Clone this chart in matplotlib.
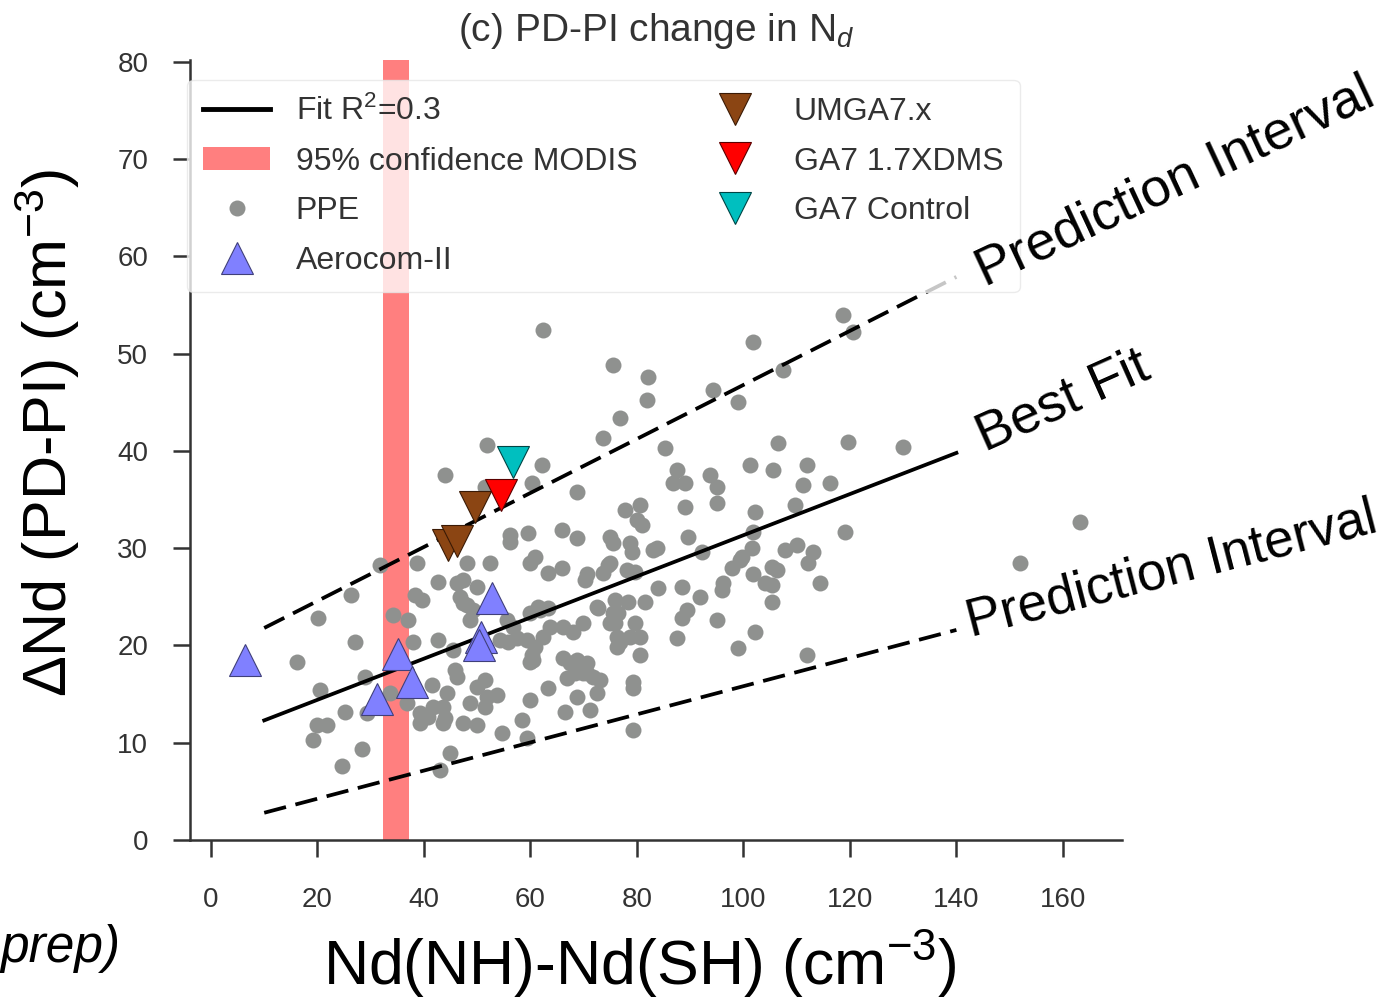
import matplotlib
matplotlib.use("Agg")
import matplotlib.pyplot as plt

plt.rcParams['font.family'] = ['Liberation Sans', 'DejaVu Sans']
plt.rcParams['mathtext.fontset'] = 'custom'
plt.rcParams['mathtext.rm'] = 'Liberation Sans'
plt.rcParams['mathtext.it'] = 'Liberation Sans:italic'
plt.rcParams['mathtext.bf'] = 'Liberation Sans:bold'

# ---------------- data ----------------
ppe_x = [26.3, 20.1, 27.0, 16.2, 28.9, 20.5, 25.2, 19.9, 21.8, 19.2,
         28.4, 24.6, 29.3, 31.7, 34.2, 37.0, 38.3, 39.6, 42.6, 38.7,
         46.2, 47.3, 46.8, 47.3, 37.9, 42.6, 45.4, 45.8, 46.2, 41.5,
         33.6, 36.8, 39.2, 41.7, 43.6, 44.3, 39.2, 43.6, 47.3, 50.0,
         48.6, 50.0, 44.9, 43.0, 40.8, 43.9, 48.1, 49.2, 48.6, 50.0,
         51.5, 51.8, 51.5, 53.7, 54.6, 58.4, 59.3, 59.9, 63.3, 66.5,
         66.9, 68.7, 71.2, 72.5, 69.9, 71.7, 73.1, 68.0, 70.6, 66.1,
         59.9, 60.8, 59.3, 62.3, 63.7, 57.5, 56.7, 55.6, 59.9, 61.4,
         63.3, 66.1, 68.0, 69.9, 72.7, 74.9, 76.2, 76.2, 70.2, 60.3,
         60.5, 54.3, 55.8, 61.8, 75.5, 67.4, 68.7, 70.6, 68.4,
         43.9, 51.8, 51.5, 62.2, 60.3, 68.7, 73.6, 76.8, 62.3, 75.5,
         82.1, 81.9, 94.3, 99.0, 101.8, 107.4, 118.7, 120.6, 85.3, 106.5,
         119.6, 130.0, 87.5, 86.8, 89.0, 93.7, 95.0, 101.2, 105.5, 111.9,
         111.2, 116.2, 95.0, 89.0, 102.2, 109.7, 119.1, 77.7, 80.6, 80.0,
         80.9, 89.6, 74.9, 75.5, 78.7, 79.1, 83.0, 83.8, 92.2, 101.8,
         101.6, 99.7, 97.8, 107.8, 110.0, 113.1, 112.1, 105.4, 106.3, 101.8,
         114.4, 96.2, 104.0, 74.9, 78.1, 79.6, 83.9, 88.5, 56.2, 56.2,
         59.5, 65.9, 68.7, 52.4, 48.1, 60.8, 59.9, 65.9, 63.3, 70.6,
         74.6, 73.6,
         81.5, 91.8, 96.0, 105.4, 105.4, 89.4, 88.5, 95.0, 102.2, 99.0,
         111.9, 87.5, 75.9, 78.3, 76.4, 79.6, 75.9, 76.8, 78.7, 80.6,
         80.6, 79.2, 79.2, 79.2, 163.2, 151.9, 99.3, 72.5]
ppe_y = [25.2, 22.8, 20.4, 18.3, 16.8, 15.4, 13.2, 11.8, 11.8, 10.3,
         9.4, 7.6, 13.1, 28.3, 23.1, 22.6, 25.2, 24.7, 26.5, 28.5,
         26.4, 26.7, 25.0, 24.4, 20.4, 20.6, 19.5, 17.5, 16.8, 15.9,
         15.1, 14.1, 13.1, 13.7, 13.7, 15.1, 12.0, 12.0, 12.0, 11.8,
         14.1, 15.7, 8.9, 7.2, 12.6, 12.5, 24.2, 23.7, 22.6, 26.0,
         13.7, 14.7, 16.5, 14.9, 11.0, 12.3, 10.5, 14.4, 15.6, 13.2,
         16.7, 14.7, 13.4, 15.1, 17.2, 16.8, 16.5, 18.2, 18.2, 18.7,
         18.3, 19.8, 20.6, 20.9, 21.9, 20.8, 21.9, 22.6, 23.3, 24.0,
         23.9, 21.9, 21.4, 22.3, 23.9, 22.3, 20.9, 19.8, 26.7, 19.0,
         18.5, 20.6, 20.4, 23.7, 23.3, 18.2, 18.5, 17.2, 17.2,
         37.5, 40.6, 36.3, 38.6, 36.7, 35.8, 41.3, 43.4, 52.4, 48.8,
         47.6, 45.2, 46.3, 45.0, 51.2, 48.3, 54.0, 52.2, 40.3, 40.8,
         40.9, 40.4, 38.0, 36.7, 36.7, 37.5, 36.3, 38.6, 38.0, 38.6,
         36.5, 36.7, 34.7, 34.2, 33.7, 34.4, 31.7, 33.9, 34.4, 32.9,
         32.4, 31.2, 31.2, 30.5, 30.5, 29.6, 29.8, 30.0, 29.6, 31.7,
         30.0, 29.1, 28.0, 29.8, 30.3, 29.6, 28.5, 28.1, 27.8, 27.3,
         26.4, 26.4, 26.4, 28.5, 27.8, 27.6, 25.9, 26.0, 31.4, 30.6,
         31.6, 31.9, 31.1, 28.5, 28.5, 29.1, 28.5, 28.0, 27.5, 27.3,
         28.3, 27.5,
         24.5, 25.0, 25.7, 26.2, 24.5, 23.7, 22.8, 22.6, 21.4, 19.7,
         19.0, 20.8, 24.7, 24.5, 23.3, 22.3, 22.3, 20.4, 20.9, 20.9,
         19.0, 16.2, 15.6, 11.3, 32.7, 28.5, 28.8, 24.0]

aerocom_x = [6.4, 35.1, 37.7, 31.2, 52.8, 50.7, 50.4]
aerocom_y = [18.5, 19.1, 16.2, 14.5, 24.9, 20.9, 20.0]
umga_x = [44.5, 46.2, 49.6]
umga_y = [30.3, 30.7, 34.2]
dms_x = [54.5]
dms_y = [35.5]
ctrl_x = [56.7]
ctrl_y = [38.9]

fit_x = [10, 140]
fit_y = [12.3, 39.8]
pi_upper = [21.8, 57.9]
pi_lower = [2.8, 21.6]

modis_range = [32.3, 37.2]

xticks = [0, 20, 40, 60, 80, 100, 120, 140, 160]
yticks = [0, 10, 20, 30, 40, 50, 60, 70, 80]

# ---------------- figure ----------------
W, H = 1390, 1001
fig = plt.figure(figsize=(W / 100, H / 100), dpi=100)
ax = fig.add_axes([190 / W, 1 - 840 / H, 932 / W, 780 / H])

ax.axvspan(modis_range[0], modis_range[1], color='red', alpha=0.5, lw=0,
           zorder=1, label='95% confidence MODIS')

dash = (6.0, 2.6)
ax.plot(fit_x, fit_y, color='black', lw=2.7, zorder=3, label='Fit R$^2$=0.3')
ax.plot(fit_x, pi_upper, color='black', lw=2.7, ls='--', dashes=dash, zorder=3)
ax.plot(fit_x, pi_lower, color='black', lw=2.7, ls='--', dashes=dash, zorder=3)

ax.plot(ppe_x, ppe_y, ls='none', marker='o', ms=11.5, mfc='#8f918f',
        mec='none', zorder=2, label='PPE')
ax.plot(aerocom_x, aerocom_y, ls='none', marker='^', ms=23, mfc='#8080ff',
        mec='#40407a', mew=0.8, zorder=4, label='Aerocom-II')
ax.plot(umga_x, umga_y, ls='none', marker='v', ms=23, mfc='#8B4513',
        mec='#3a1a05', mew=0.8, zorder=4, label='UMGA7.x')
ax.plot(dms_x, dms_y, ls='none', marker='v', ms=23, mfc='#ff0000',
        mec='#5a0000', mew=0.8, zorder=4, label='GA7 1.7XDMS')
ax.plot(ctrl_x, ctrl_y, ls='none', marker='v', ms=23, mfc='#00bfbf',
        mec='#004545', mew=0.8, zorder=4, label='GA7 Control')

ax.set_xlim(-3.94, 171.1)
ax.set_ylim(0, 80.2)
ax.set_xticks(xticks)
ax.set_yticks(yticks)

for s in ['top', 'right']:
    ax.spines[s].set_visible(False)
for s in ['left', 'bottom']:
    ax.spines[s].set_color('#333333')
    ax.spines[s].set_linewidth(1.8)
ax.tick_params(axis='both', colors='#333333', labelsize=20, width=1.8,
               length=12, labelcolor='#333333')
ax.tick_params(axis='y', pad=18)
ax.tick_params(axis='x', pad=22)

ax.set_title('(c) PD-PI change in N$_d$', fontsize=28, color='#333333', pad=14)

ax.set_ylabel('\u0394Nd (PD-PI) (cm$^{-3}$)', fontsize=44, color='black')
ax.yaxis.set_label_coords(-0.116, 0.522)
ax.set_xlabel('Nd(NH)-Nd(SH) (cm$^{-3}$)', fontsize=45, color='black')
ax.xaxis.set_label_coords(0.483, -0.114)

handles, labels = ax.get_legend_handles_labels()
order = ['Fit R$^2$=0.3', '95% confidence MODIS', 'PPE', 'Aerocom-II',
         'UMGA7.x', 'GA7 1.7XDMS', 'GA7 Control']
hmap = dict(zip(labels, handles))
leg = ax.legend([hmap[k] for k in order], order, ncol=2, loc='upper left',
                bbox_to_anchor=(-0.003, 0.975), borderaxespad=0.0,
                fontsize=23, labelspacing=0.62, handlelength=2.1,
                handletextpad=0.8, columnspacing=2.0, borderpad=0.5,
                framealpha=0.78, edgecolor='0.9', fancybox=True,
                labelcolor='#333333')
leg.set_zorder(5)
leg.get_lines()[0].set_linewidth(3.5)

ax.text(145.4, 56.9, 'Prediction Interval', fontsize=39, rotation=25,
        rotation_mode='anchor', ha='left', va='baseline', zorder=6)
ax.text(145.4, 39.9, 'Best Fit', fontsize=39, rotation=24,
        rotation_mode='anchor', ha='left', va='baseline', zorder=6)
ax.text(142.7, 20.9, 'Prediction Interval', fontsize=38, rotation=14.5,
        rotation_mode='anchor', ha='left', va='baseline', zorder=6)

fig.text(0.0, 1 - 962 / H, 'prep)', fontsize=37, style='italic',
         ha='left', va='baseline')

fig.savefig('out.png', dpi=100)
